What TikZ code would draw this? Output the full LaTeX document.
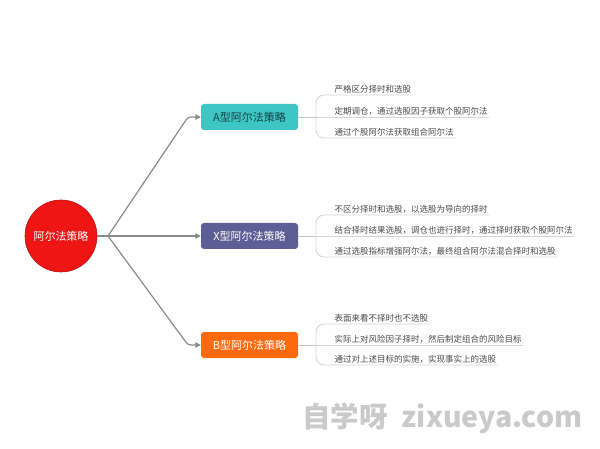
\documentclass[tikz,border=0pt]{standalone}
\usepackage{fontspec}
\setmainfont{Noto Sans CJK SC}
\newfontfamily\cjk{Noto Sans CJK SC}
\usetikzlibrary{arrows.meta}
\definecolor{conn}{HTML}{8A8A8A}
\definecolor{brk}{HTML}{D6D6D6}
\definecolor{itemtxt}{HTML}{4A4A4A}
\definecolor{teal}{HTML}{3DC6C4}
\definecolor{slate}{HTML}{5E5E96}
\definecolor{orng}{HTML}{FF6A0E}
\definecolor{rootred}{HTML}{EE1515}
\definecolor{wm}{HTML}{CACACA}
\tikzset{
  root/.style={circle, fill=rootred, draw=rootred!80!black, line width=0.6pt, minimum size=72pt, inner sep=0pt, text=white, font=\cjk\fontsize{11}{13}\selectfont},
  topic/.style={rectangle, rounded corners=3pt, minimum width=97pt, minimum height=26pt, inner sep=0pt, font=\cjk\fontsize{11}{13}\selectfont},
  item/.style={anchor=south west, inner sep=1.5pt, text=itemtxt, font=\cjk\fontsize{8.5}{10}\selectfont},
  link/.style={draw=conn, line width=1.2pt, rounded corners=3pt, -{Triangle[length=5.5pt,width=5.5pt]}},
  bracket/.style={draw=brk, line width=0.9pt, rounded corners=8pt},
  stem/.style={draw=brk!80!gray, line width=0.9pt},
}
\begin{document}
\begin{tikzpicture}[x=1pt,y=-1pt]
\useasboundingbox (0,0) rectangle (600,449);
\fill[white] (0,0) rectangle (600,449);

% root
\node[root] (root) at (61,236) {阿尔法策略};
\coordinate (fork) at (108,236);

% topics
\node[topic, fill=teal, text=teal!35!black] (A) at (249.5,117) {A型阿尔法策略};
\node[topic, fill=slate, text=white] (X) at (249.5,236) {X型阿尔法策略};
\node[topic, fill=orng, text=white] (B) at (249.5,345) {B型阿尔法策略};

\draw[draw=conn, line width=1.2pt] (root.east) -- (fork);
\draw[link] (fork) -- (188,117) -- (A.west);
\draw[link] (fork) -- (X.west);
\draw[link] (fork) -- (188,345) -- (B.west);

% A items
\coordinate (ja) at (316,117);
\node[item] (a1) at (333,95) {严格区分择时和选股};
\node[item] (a2) at (333,117) {定期调仓，通过选股因子获取个股阿尔法};
\node[item] (a3) at (333,138) {通过个股阿尔法获取组合阿尔法};
\draw[stem] (A.east) -- (ja);
\draw[bracket] (a1.south east) -- (316,95) -- (316,138) -- (a3.south east);
\draw[bracket] (ja) -- (a2.south east);

% X items
\coordinate (jx) at (316,236);
\node[item] (x1) at (333,215) {不区分择时和选股，以选股为导向的择时};
\node[item] (x2) at (333,236) {结合择时结果选股，调仓也进行择时，通过择时获取个股阿尔法};
\node[item] (x3) at (333,257) {通过选股指标增强阿尔法，最终组合阿尔法混合择时和选股};
\draw[stem] (X.east) -- (jx);
\draw[bracket] (x1.south east) -- (316,215) -- (316,257) -- (x3.south east);
\draw[bracket] (jx) -- (x2.south east);

% B items
\coordinate (jb) at (316,345);
\node[item] (b1) at (333,324) {表面来看不择时也不选股};
\node[item] (b2) at (333,345) {实际上对风险因子择时，然后制定组合的风险目标};
\node[item] (b3) at (333,365) {通过对上述目标的实施，实现事实上的选股};
\draw[stem] (B.east) -- (jb);
\draw[bracket] (b1.south east) -- (316,324) -- (316,365) -- (b3.south east);
\draw[bracket] (jb) -- (b2.south east);

% watermark
\node[anchor=west, inner sep=0pt, text=wm, font=\cjk\bfseries\fontsize{28.5}{31}\selectfont] (wm) at (302,418) {自学呀\hspace{14pt}zixueya.com};
\end{tikzpicture}
\end{document}
